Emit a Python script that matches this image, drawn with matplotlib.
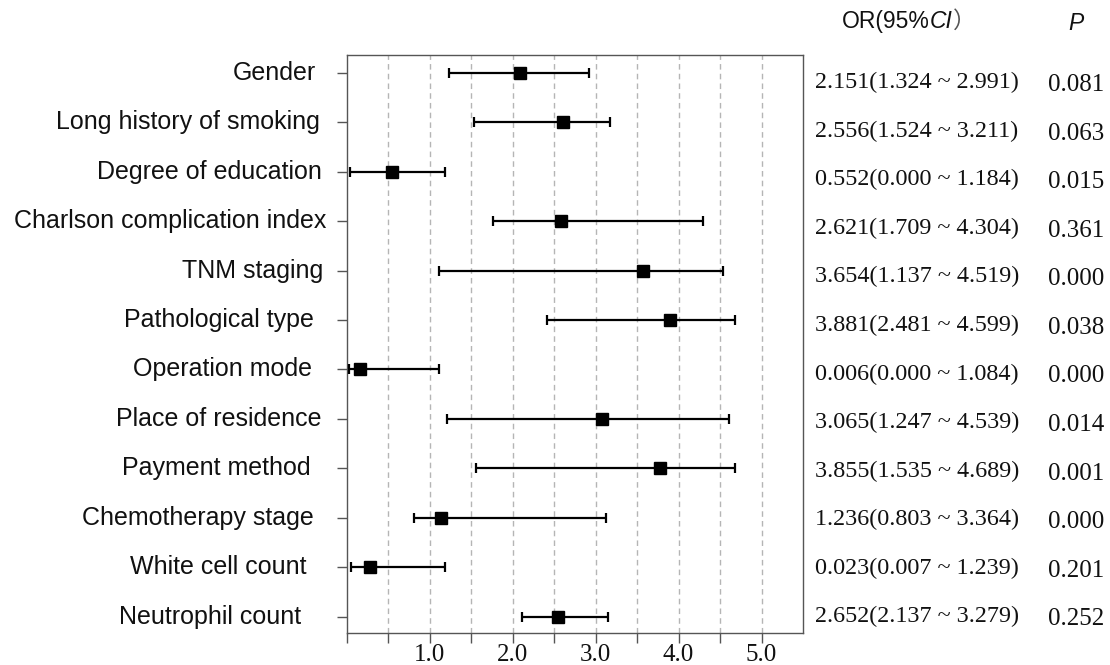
import numpy as np
import matplotlib
matplotlib.use('Agg')
import matplotlib.pyplot as plt
import matplotlib.transforms as mtransforms

# 변수 이름
labels = ['Gender', 'Long history of smoking', 'Degree of education',
          'Charlson complication index', 'TNM staging', 'Pathological type',
          'Operation mode', 'Place of residence', 'Payment method',
          'Chemotherapy stage', 'White cell count', 'Neutrophil count']

# 그림에 찍힌 점 / 신뢰구간
or_plot = [2.09, 2.61, 0.54, 2.58, 3.57, 3.90, 0.16, 3.07, 3.78, 1.13, 0.28, 2.54]
lo_plot = [1.23, 1.53, 0.04, 1.76, 1.11, 2.41, 0.02, 1.21, 1.56, 0.81, 0.05, 2.11]
hi_plot = [2.92, 3.17, 1.18, 4.30, 4.54, 4.68, 1.11, 4.61, 4.68, 3.13, 1.18, 3.15]

# 오른쪽 표 값
or_tab = [2.151, 2.556, 0.552, 2.621, 3.654, 3.881, 0.006, 3.065, 3.855, 1.236, 0.023, 2.652]
lo_tab = [1.324, 1.524, 0.000, 1.709, 1.137, 2.481, 0.000, 1.247, 1.535, 0.803, 0.007, 2.137]
hi_tab = [2.991, 3.211, 1.184, 4.304, 4.519, 4.599, 1.084, 4.539, 4.689, 3.364, 1.239, 3.279]
p_tab = [0.081, 0.063, 0.015, 0.361, 0.000, 0.038, 0.000, 0.014, 0.001, 0.000, 0.201, 0.252]

x_ticks = [0, 0.5, 1.0, 1.5, 2.0, 2.5, 3.0, 3.5, 4.0, 4.5, 5.0]
x_ticklabels = ['', '', '1.0', '', '2.0', '', '3.0', '', '4.0', '', '5.0']

# 라벨 오른쪽 끝 보정 (px)
label_shift = [-5, -1, 1, 5, 2, -7, -9, 0, -10, -7, -15, -20]

sans = ['Liberation Sans', 'DejaVu Sans']
serif = ['Liberation Serif', 'DejaVu Serif']
ink = '#111111'

fig = plt.figure(figsize=(11.1, 6.65), dpi=100)
ax = fig.add_axes([0.3126, 0.0481, 0.4108, 0.8692])

rows = np.arange(len(labels))
or_plot = np.array(or_plot)
err = [or_plot - np.array(lo_plot), np.array(hi_plot) - or_plot]
ax.errorbar(or_plot, rows, xerr=err, fmt='s', color='black', ms=8.5,
            elinewidth=1.6, capsize=3.5, capthick=1.6, zorder=3)

ax.set_xlim(0, 5.5)
ax.set_ylim(11.33, -0.36)
ax.set_xticks(x_ticks)
ax.set_xticklabels(x_ticklabels, fontfamily=serif, fontsize=18, color=ink)
for gx in x_ticks[1:]:
    ax.axvline(gx, color='#b5b5b5', lw=1.0, ls=(0, (4, 3)), zorder=1)

ax.set_yticks(rows)
ax.set_yticklabels([])
ax.tick_params(axis='both', direction='out', length=7, width=1, color='#555555')
ax.tick_params(axis='x', pad=1)
for s in ax.spines.values():
    s.set_color('#555555')
    s.set_linewidth(1.0)

# 왼쪽 변수 라벨
tr = mtransforms.blended_transform_factory(fig.transFigure, ax.transData)
for i, lab in enumerate(labels):
    ax.text((321 + label_shift[i]) / 1110, i, lab, transform=tr, ha='right',
            va='center', fontfamily=sans, fontsize=18, color=ink)

# 오른쪽 표
text_y = 0.2 + rows * 0.982
for i in range(len(labels)):
    s = '{:.3f}({:.3f} ~ {:.3f})'.format(or_tab[i], lo_tab[i], hi_tab[i])
    ax.text(815 / 1110, text_y[i], s, transform=tr, ha='left', va='center',
            fontfamily=serif, fontsize=17.4, color=ink)
    ax.text(1048 / 1110, text_y[i] + 0.05, '{:.3f}'.format(p_tab[i]), transform=tr,
            ha='left', va='center', fontfamily=serif, fontsize=18, color=ink)

# 제목
t1 = fig.text(842 / 1110, 0.968, 'OR(95%', ha='left', va='center',
              fontfamily=sans, fontsize=16.5, color=ink)
t2 = fig.text(0, 0, 'CI', fontfamily=sans, fontstyle='italic', fontsize=16.5, color=ink)
t3 = fig.text(0, 0, '）', fontfamily=['Noto Sans CJK SC', 'DejaVu Sans'],
              fontsize=16.5, color='#555555')
fig.canvas.draw()
r = fig.canvas.get_renderer()
bb = t1.get_window_extent(r)
t2.set_position((bb.x1 / fig.bbox.width, bb.y0 / fig.bbox.height))
t2.set_va('bottom')
bb2 = t2.get_window_extent(r)
t3.set_position((bb2.x1 / fig.bbox.width, bb.y0 / fig.bbox.height))
t3.set_va('bottom')
fig.text(1076 / 1110, 0.965, 'P', ha='center', va='center', fontfamily=sans,
         fontstyle='italic', fontsize=16.5, color=ink)

fig.savefig('out.png', dpi=100)
